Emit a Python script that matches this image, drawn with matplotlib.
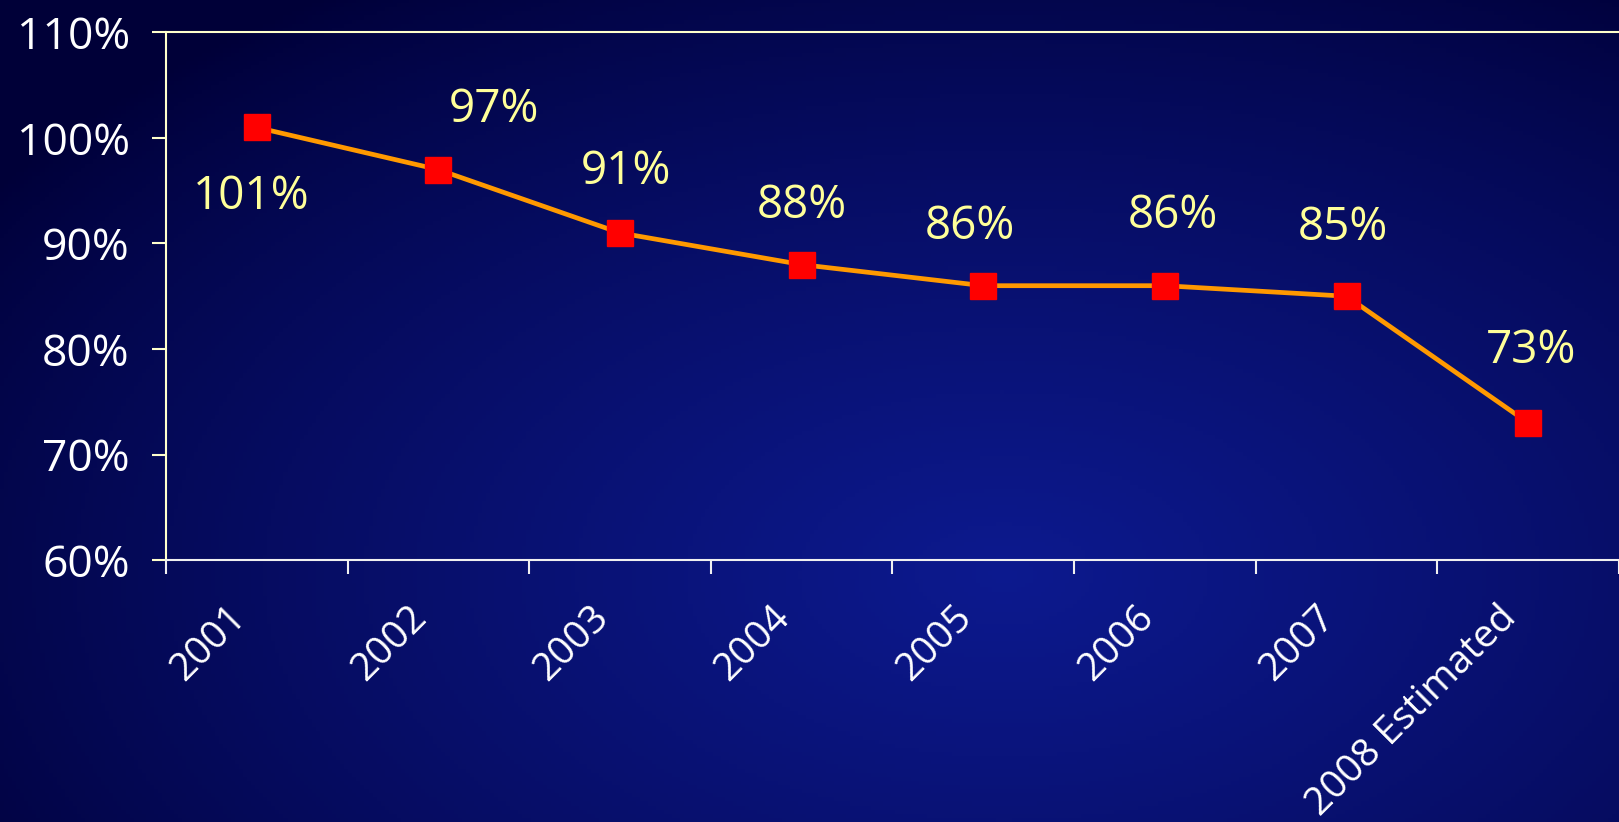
import matplotlib
matplotlib.use('Agg')
import matplotlib.pyplot as plt
from matplotlib.transforms import ScaledTranslation
import numpy as np

# data
years = ['2001', '2002', '2003', '2004', '2005', '2006', '2007', '2008 Estimated']
ratio = [101, 97, 91, 88, 86, 86, 85, 73]
labels = ['101%', '97%', '91%', '88%', '86%', '86%', '85%', '73%']
yticks = [60, 70, 80, 90, 100, 110]

# label offsets in points (dx, dy), hand placed like the original
offsets = [(-4, -50), (40, 43), (4, 44), (0, 42), (-10, 42), (6, 50), (-3, 49), (2, 52)]

plt.rcParams['font.family'] = ['Open Sans', 'DejaVu Sans']

fig = plt.figure(figsize=(16.19, 8.22), dpi=100)

# dark blue background with a soft lighter glow
bg = fig.add_axes([0, 0, 1, 1], zorder=0)
gx, gy = np.meshgrid(np.linspace(0, 1, 400), np.linspace(0, 1, 200))
d = np.sqrt(((gx - 0.62) / 0.75) ** 2 + ((gy - 0.3) / 0.85) ** 2)
t = np.clip(1 - d, 0, 1) ** 0.8
dark = np.array([0.0, 0.0, 0.22])
light = np.array([0.05, 0.10, 0.56])
img = dark + (light - dark) * t[..., None]
bg.imshow(img, aspect='auto', extent=[0, 1, 0, 1], origin='lower')
bg.axis('off')

ax = fig.add_axes([0.1025, 0.3187, 0.8975, 0.6418], zorder=1)
ax.patch.set_alpha(0)

x = np.arange(len(years))
ax.plot(x, ratio, color='#FF9900', linewidth=3.4, marker='s', markersize=19,
        markerfacecolor='#FF0000', markeredgecolor='#FF0000', zorder=3)

for xi, v, lab, (dx, dy) in zip(x, ratio, labels, offsets):
    ax.annotate(lab, (xi, v), xytext=(dx, dy), textcoords='offset points',
                ha='center', va='center', color='#FFFF99', fontsize=33)

ax.set_xlim(-0.5, len(years) - 0.5)
ax.set_ylim(60, 110)

# tick marks between categories, labels at centres
ax.set_xticks(np.arange(-0.5, len(years), 1.0))
ax.set_xticklabels([])
ax.set_xticks(x, minor=True)
ax.set_xticklabels(years, minor=True, rotation=45, ha='right', va='top',
                   rotation_mode='anchor', color='white', fontsize=28)
ax.tick_params(axis='x', which='major', length=10, width=1.5, color='#F0F0F0', direction='out')
ax.tick_params(axis='x', which='minor', length=0, pad=28)
shift = ScaledTranslation(-22 / 72, 0, fig.dpi_scale_trans)
for lab in ax.get_xticklabels(minor=True):
    lab.set_transform(lab.get_transform() + shift)

ax.set_yticks(yticks)
ax.set_yticklabels([f'{v}%' for v in yticks], color='white', fontsize=32)
ax.tick_params(axis='y', length=10, width=1.5, color='#FFFFCC', pad=16)

ax.spines['left'].set_color('#FFFFCC')
ax.spines['left'].set_linewidth(1.5)
ax.spines['bottom'].set_color('#F0F0F0')
ax.spines['bottom'].set_linewidth(1.5)
ax.spines['top'].set_color('#FFFFCC')
ax.spines['top'].set_linewidth(1.5)
ax.spines['right'].set_visible(False)

fig.savefig('out.png', dpi=100)
